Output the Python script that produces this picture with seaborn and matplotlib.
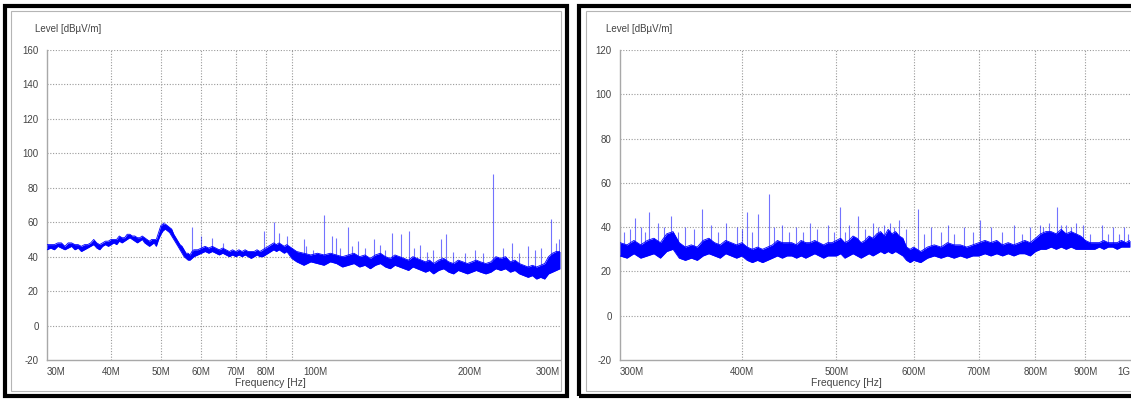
import numpy as np
import pandas as pd
import matplotlib
matplotlib.use("Agg")
import matplotlib.pyplot as plt
import seaborn as sns
from matplotlib.patches import Rectangle
from matplotlib.ticker import FixedLocator, NullLocator, FixedFormatter

# ---------------- data (MHz, dBuV/m) ----------------
left_freq = [30, 30.5, 31, 31.5, 32, 32.5, 33, 33.5, 34, 34.5, 35, 35.5, 36, 36.5, 37, 37.5,
             38, 38.5, 39, 39.5, 40, 40.5, 41, 41.5, 42, 42.5, 43, 43.5, 44, 44.5, 45, 45.5,
             46, 46.5, 47, 47.5, 48, 48.5, 49, 49.5, 50, 50.5, 51, 51.5, 52, 52.5, 53, 53.5,
             54, 54.5, 55, 55.5, 56, 56.5, 57, 57.5, 58,
             59, 60, 61, 62, 63, 64, 65, 66, 67, 68, 69, 70, 71, 72, 73, 74, 75, 76, 77, 78,
             79, 80, 81, 82, 83, 84, 85, 86, 87, 88, 89, 90,
             92, 95, 98, 101, 104, 107, 110, 113, 116, 119, 122, 125, 128, 131, 134, 137, 140,
             143, 146, 149, 152, 155, 158, 161, 164, 167, 170, 174, 178, 182, 186, 190, 194,
             198, 202, 206, 210, 215, 220, 225, 230, 235, 240, 245, 250, 255, 260, 265, 270,
             275, 280, 285, 290, 295, 300]
left_lo = [44, 45, 44, 46, 45, 44, 45, 46, 44, 45, 43, 44, 45, 46, 47, 45, 44, 46, 47, 46,
           47, 48, 47, 49, 48, 49, 50, 51, 50, 49, 48, 49, 50, 48, 47, 46, 47, 48, 46, 50,
           53, 55, 56, 55, 54, 52, 50, 48, 46, 44, 42, 40, 39, 38, 38, 39, 40,
           41, 42, 43, 42, 43, 42, 41, 42, 41, 40, 41, 40, 41, 40, 41, 40, 39, 40, 41, 40,
           40, 41, 42, 43, 44, 43, 44, 43, 42, 43, 41, 39,
           37, 35, 37, 36, 35, 37, 36, 34, 35, 36, 34, 35, 33, 35, 36, 34, 33, 35, 34, 33,
           32, 34, 33, 32, 31, 32, 30, 32, 33, 31, 30, 32, 31, 30, 31, 32, 31, 30, 31, 33,
           32, 33, 31, 32, 30, 29, 28, 29, 27, 28, 27, 30, 31, 32, 33]
left_hi = [47, 47, 47, 48, 48, 46, 48, 48, 47, 47, 46, 47, 47, 48, 50, 48, 47, 48, 49, 49,
           50, 50, 50, 52, 51, 51, 53, 53, 52, 52, 51, 51, 52, 51, 50, 49, 50, 50, 50, 54,
           58, 59, 59, 58, 57, 56, 53, 51, 49, 47, 46, 44, 42, 42, 41, 43, 44,
           44, 45, 46, 45, 46, 45, 44, 45, 44, 43, 44, 43, 44, 43, 44, 43, 43, 43, 44, 43,
           44, 45, 46, 47, 48, 47, 48, 47, 46, 47, 46, 45,
           43, 42, 41, 42, 41, 42, 41, 40, 41, 42, 40, 41, 39, 41, 42, 40, 39, 41, 40, 39,
           38, 40, 39, 38, 37, 38, 36, 38, 39, 37, 36, 38, 37, 36, 37, 38, 37, 36, 37, 40,
           39, 40, 37, 38, 36, 35, 34, 35, 34, 35, 36, 40, 42, 43, 43]
left_spike_freq = [50.5, 57.5, 60, 63, 66, 79.5, 83, 85, 88, 95, 96, 99, 104, 108, 110, 112,
                   116, 118, 121, 125, 130, 134, 137, 141, 147, 152, 156, 160, 165, 170, 176,
                   180, 186, 196, 205, 212, 222, 232, 242, 250, 260, 268, 276, 288, 295, 298]
left_spike_peak = [60, 57, 52, 51, 48, 55, 60, 54, 52, 50, 46, 44, 64, 52, 51, 45,
                   57, 46, 49, 45, 50, 47, 44, 54, 53, 55, 45, 47, 43, 44, 50,
                   53, 43, 42, 44, 42, 88, 45, 48, 42, 46, 44, 45, 62, 48, 50]
left_tick_vals = [30, 40, 50, 60, 70, 80, 100, 200, 300]
left_tick_labels = ["30M", "40M", "50M", "60M", "70M", "80M", "100M", "200M", "300M"]
left_vgrid = [40, 50, 60, 70, 80, 90]
left_yticks = [160, 140, 120, 100, 80, 60, 40, 20, 0, -20]

right_freq = [300, 305, 310, 315, 320, 325, 330, 335, 340, 345, 350, 355, 360, 365, 370, 375,
              380, 385, 390, 395, 400, 405, 410, 415, 420, 425, 430, 435, 440, 445, 450, 455,
              460, 465, 470, 475, 480, 485, 490, 495, 500, 505, 510, 515, 520, 525, 530, 535,
              540, 545, 550, 555, 560, 565, 570, 575, 580, 585, 590, 595, 600,
              610, 620, 630, 640, 650, 660, 670, 680, 690, 700, 710, 720, 730, 740, 750, 760,
              770, 780, 790, 800, 810, 820, 830, 840, 850, 860, 870, 880, 890, 900, 910, 920,
              930, 940, 950, 960, 970, 980, 990, 1000]
right_lo = [27, 26, 28, 26, 27, 28, 26, 29, 30, 26, 25, 26, 25, 27, 28, 27, 26, 28, 27, 26,
            27, 25, 24, 25, 24, 25, 26, 27, 26, 27, 27, 26, 27, 26, 27, 28, 27, 26, 27, 27,
            27, 28, 26, 27, 28, 27, 26, 27, 28, 27, 28, 29, 28, 29, 28, 29, 28, 27, 25, 24,
            25,
            24, 26, 27, 26, 27, 26, 27, 26, 27, 27, 28, 27, 28, 27, 28, 27, 28, 28, 27, 29,
            30, 30, 31, 30, 31, 30, 31, 30, 30, 30, 30, 30, 31, 30, 31, 31, 30, 31, 31, 31]
right_hi = [33, 32, 34, 32, 34, 35, 33, 37, 38, 33, 31, 32, 31, 34, 35, 33, 32, 34, 33, 32,
            33, 31, 30, 31, 30, 31, 32, 34, 33, 33, 33, 32, 34, 33, 33, 34, 33, 32, 33, 33,
            34, 35, 33, 34, 36, 35, 33, 34, 36, 35, 37, 38, 36, 39, 37, 38, 36, 35, 31, 30,
            31,
            29, 31, 32, 31, 33, 32, 32, 31, 32, 33, 34, 33, 34, 32, 33, 32, 33, 34, 33, 35,
            37, 38, 38, 37, 39, 37, 38, 37, 36, 34, 33, 33, 33, 34, 33, 33, 33, 34, 33, 34]
right_spike_freq = [303, 307, 311, 315, 318, 321, 328, 333, 338, 344, 350, 357, 364, 372, 378,
                    385, 395, 400, 405, 410, 416, 426, 432, 440, 447, 455, 462, 470, 478, 490,
                    497, 504, 510, 515, 526, 535, 545, 552, 560, 567, 573, 580, 590, 606, 615,
                    625, 640, 650, 660, 675, 690, 702, 720, 740, 760, 775, 790, 809, 815, 825,
                    841, 850, 860, 870, 880, 895, 910, 935, 950, 960, 975, 985, 995]
right_spike_peak = [38, 39, 44, 40, 38, 47, 42, 40, 45, 38, 40, 39, 48, 41, 38,
                    42, 40, 39, 47, 38, 46, 55, 40, 41, 38, 40, 38, 42, 39, 41,
                    38, 49, 38, 41, 45, 39, 42, 40, 41, 42, 40, 43, 39, 48, 37,
                    40, 38, 41, 37, 40, 38, 43, 40, 38, 41, 37, 40, 41, 40, 42,
                    49, 41, 41, 40, 42, 41, 37, 41, 37, 40, 37, 40, 37]
right_tick_vals = [300, 400, 500, 600, 700, 800, 900, 1000]
right_tick_labels = ["300M", "400M", "500M", "600M", "700M", "800M", "900M", "1G"]
right_vgrid = [400, 500, 600, 700, 800, 900]
right_yticks = [120, 100, 80, 60, 40, 20, 0, -20]

# ---------------- style ----------------
sns.set_style("white")
plt.rcParams['font.family'] = ['Liberation Sans', 'DejaVu Sans']

W, H = 1131, 399
fig = plt.figure(figsize=(W / 100, H / 100), dpi=100)


def fx(px):
    return px / W


def fy(py):
    return 1 - py / H


BLUE = "#0000ff"
GRID = "#9a9a9a"
TXT = "#444444"


def draw_panel(ax, freq, lo, hi, sfreq, speak, ticks, tlabels, vgrid, yticks, xlim):
    df = pd.DataFrame({"f": freq, "lo": lo, "hi": hi})
    df["mid"] = (df["lo"] + df["hi"]) / 2
    ax.fill_between(df["f"], df["lo"], df["hi"], color=BLUE, lw=0, zorder=3)
    sns.lineplot(data=df, x="f", y="hi", ax=ax, color=BLUE, lw=0.6, zorder=4)
    sns.lineplot(data=df, x="f", y="lo", ax=ax, color=BLUE, lw=0.6, zorder=4)
    base = np.interp(sfreq, df["f"], df["mid"])
    ax.vlines(sfreq, base, speak, color=BLUE, lw=0.8, alpha=0.55, zorder=3)

    ax.set_xscale("log")
    ax.set_xlim(*xlim)
    ax.set_ylim(min(yticks), max(yticks))
    ax.xaxis.set_major_locator(FixedLocator(ticks))
    ax.xaxis.set_major_formatter(FixedFormatter(tlabels))
    ax.xaxis.set_minor_locator(NullLocator())
    ax.set_yticks(yticks)
    ax.set_yticklabels([str(v) for v in yticks])
    ax.tick_params(axis="both", length=0, labelsize=7, colors=TXT)
    ax.tick_params(axis="x", pad=5)
    ax.tick_params(axis="y", pad=6)
    ax.set_xlabel("")
    ax.set_ylabel("")
    for v in yticks[:-1]:
        ax.axhline(v, color=GRID, lw=0.8, ls=(0, (1, 1.5)), zorder=1)
    for v in vgrid:
        ax.axvline(v, color=GRID, lw=0.8, ls=(0, (1, 1.5)), zorder=1)
    for s in ["top", "right"]:
        ax.spines[s].set_visible(False)
    for s in ["left", "bottom"]:
        ax.spines[s].set_color("#a8a8a8")
        ax.spines[s].set_linewidth(1.0)
    lbls = ax.get_xticklabels()
    lbls[0].set_ha("left")
    lbls[-1].set_ha("right")
    return lbls


ax1 = fig.add_axes([fx(47), fy(360), fx(560 - 47), (360 - 50) / H])
draw_panel(ax1, left_freq, left_lo, left_hi, left_spike_freq, left_spike_peak,
           left_tick_vals, left_tick_labels, left_vgrid, left_yticks, (30, 300))

ax2 = fig.add_axes([fx(620), fy(360), fx(1130 - 620), (360 - 50) / H])
draw_panel(ax2, right_freq, right_lo, right_hi, right_spike_freq, right_spike_peak,
           right_tick_vals, right_tick_labels, right_vgrid, right_yticks, (300, 1000))

# axis titles
fig.text(fx(35), fy(29), "Level [dBµV/m]", fontsize=7, ha="left", va="center", color=TXT)
fig.text(fx(606), fy(29), "Level [dBµV/m]", fontsize=7, ha="left", va="center", color=TXT)
fig.text(fx(270), fy(383), "Frequency [Hz]", fontsize=7.5, ha="center", va="center", color=TXT)
fig.text(fx(846), fy(383), "Frequency [Hz]", fontsize=7.5, ha="center", va="center", color=TXT)

# panel frames
fig.add_artist(Rectangle((fx(5), fy(396)), fx(567 - 5), (396 - 6) / H, transform=fig.transFigure,
                         fill=False, ec="black", lw=3))
fig.add_artist(Rectangle((fx(11), fy(391)), fx(561 - 11), (391 - 11) / H, transform=fig.transFigure,
                         fill=False, ec="#b5b5b5", lw=0.8))
fig.add_artist(Rectangle((fx(579), fy(396)), fx(1160 - 579), (396 - 6) / H, transform=fig.transFigure,
                         fill=False, ec="black", lw=3))
fig.add_artist(Rectangle((fx(586), fy(391)), fx(1160 - 586), (391 - 11) / H, transform=fig.transFigure,
                         fill=False, ec="#b5b5b5", lw=0.8))

fig.savefig("out.png", dpi=100)
